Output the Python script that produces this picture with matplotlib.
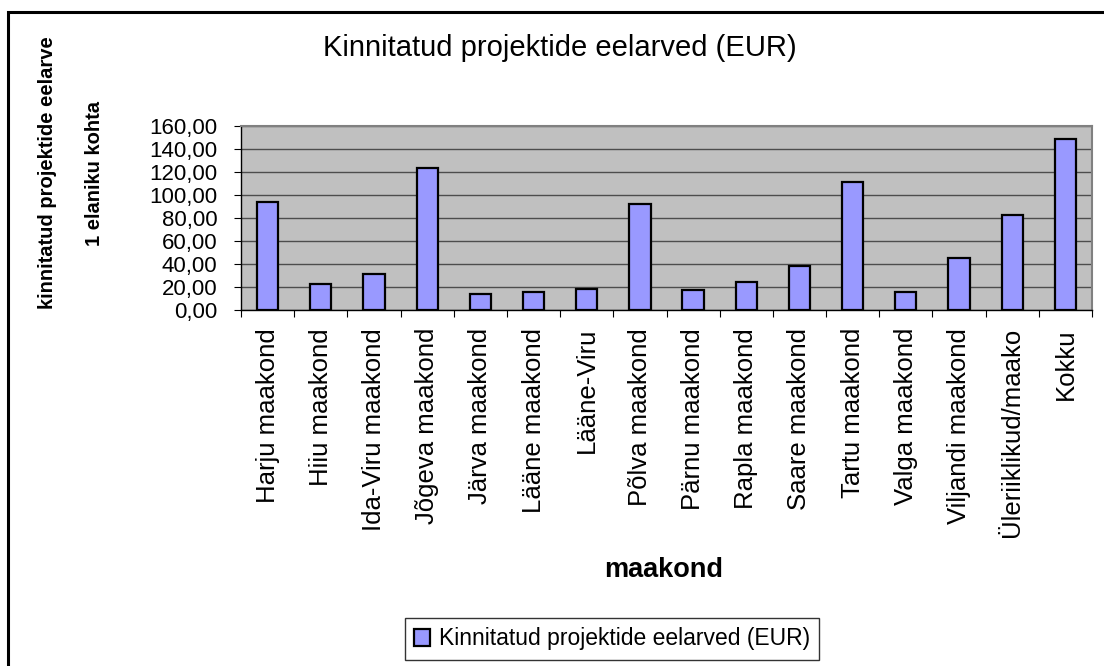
import numpy as np
import matplotlib
matplotlib.use("Agg")
import matplotlib.pyplot as plt
from matplotlib.patches import Rectangle
from matplotlib.ticker import FuncFormatter, MultipleLocator

plt.rcParams['font.family'] = ['Liberation Sans', 'DejaVu Sans']

maakonnad = ["Harju maakond", "Hiiu maakond", "Ida-Viru maakond", "Jõgeva maakond",
             "Järva maakond", "Lääne maakond", "Lääne-Viru", "Põlva maakond",
             "Pärnu maakond", "Rapla maakond", "Saare maakond", "Tartu maakond",
             "Valga maakond", "Viljandi maakond", "Üleriiklikud/maako", "Kokku"]
eelarve = [94.0, 22.5, 31.5, 123.5, 14.0, 16.0, 18.0, 92.0,
           17.5, 24.5, 38.5, 111.0, 16.0, 45.0, 83.0, 149.0]
series_name = "Kinnitatud projektide eelarved (EUR)"

W, H = 1104, 666
fig = plt.figure(figsize=(W / 100, H / 100), dpi=100)

# outer frame (only left and top edge visible in the picture)
fig.patches.append(Rectangle((8 / W, -0.1), 1.2, 1.1 - 12 / H,
                             transform=fig.transFigure, fill=False,
                             edgecolor="black", linewidth=2.2))

ax = fig.add_axes([241 / W, 1 - 310 / H, (1092 - 241) / W, (310 - 126) / H])
ax.set_facecolor("#C0C0C0")

x = np.arange(len(maakonnad))
bars = ax.bar(x, eelarve, width=0.4, color="#9999FF", edgecolor="black",
              linewidth=1.6, zorder=3, label=series_name)

ax.set_xlim(-0.5, len(maakonnad) - 0.5)
ax.set_ylim(0, 160)
ax.yaxis.set_major_locator(MultipleLocator(20))
ax.yaxis.set_major_formatter(FuncFormatter(lambda v, p: f"{v:.2f}".replace(".", ",")))
ax.grid(axis="y", color="#4d4d4d", linewidth=1.0, zorder=1)

# category boundaries as major ticks, labels on minor ticks
ax.set_xticks(np.arange(len(maakonnad) + 1) - 0.5)
ax.set_xticklabels([])
ax.set_xticks(x, minor=True)
ax.set_xticklabels(maakonnad, minor=True, rotation=90, va="top", ha="center",
                   fontsize=18.5)
ax.tick_params(axis="x", which="minor", length=0, pad=13)
ax.tick_params(axis="x", which="major", length=5, direction="out", color="black")
ax.tick_params(axis="y", length=5, pad=12, labelsize=16)
for lbl in ax.get_yticklabels():
    lbl.set_fontstretch("expanded")

for s in ("top", "right"):
    ax.spines[s].set_color("#808080")
    ax.spines[s].set_linewidth(1.5)
for s in ("left", "bottom"):
    ax.spines[s].set_color("black")
    ax.spines[s].set_linewidth(1.0)

fig.text(560 / W, 1 - 48 / H, series_name, ha="center", va="center", fontsize=21)
fig.text(48 / W, 1 - 173 / H, "kinnitatud projektide eelarve", rotation=90,
         ha="center", va="center", fontsize=14.5, fontweight="bold")
fig.text(95 / W, 1 - 173 / H, "1 elaniku kohta", rotation=90,
         ha="center", va="center", fontsize=14.5, fontweight="bold")
fig.text(664 / W, 1 - 570 / H, "maakond", ha="center", va="center",
         fontsize=19.5, fontweight="bold")

leg = fig.legend(handles=[bars], labels=[series_name], loc="center",
                 bbox_to_anchor=(612 / W, 1 - 639 / H), fontsize=16.5,
                 frameon=True, fancybox=False, edgecolor="black",
                 handlelength=0.7, handleheight=0.7, handletextpad=0.4,
                 borderpad=0.4)
leg.get_frame().set_linewidth(1.0)

fig.savefig("out.png", dpi=100)
